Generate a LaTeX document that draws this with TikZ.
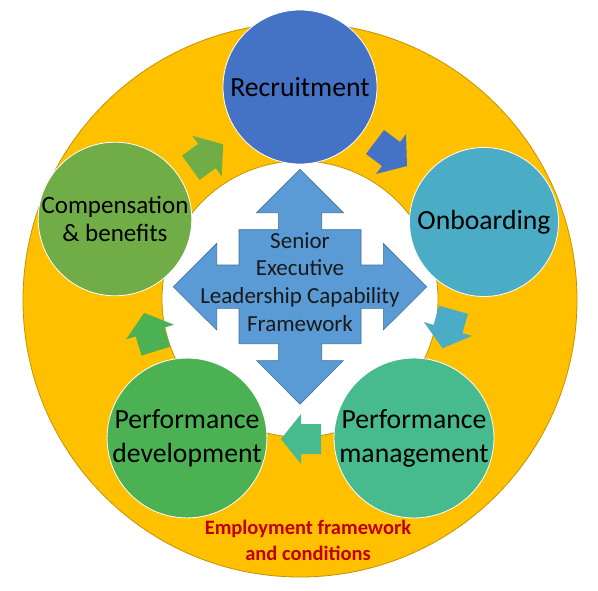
\documentclass[tikz,border=0pt]{standalone}
\usepackage{fontspec}
\setmainfont{Carlito}
\definecolor{ringfill}{HTML}{FFC000}
\definecolor{ringedge}{HTML}{C49400}
\definecolor{cRec}{HTML}{4472C4}
\definecolor{cOnb}{HTML}{4BACC6}
\definecolor{cPm}{HTML}{47BA8E}
\definecolor{cPd}{HTML}{4CB153}
\definecolor{cComp}{HTML}{70AD47}
\definecolor{hubfill}{HTML}{5B9BD5}
\definecolor{hubedge}{HTML}{41719C}
\definecolor{labred}{HTML}{C00000}
\begin{document}
\begin{tikzpicture}[x=1pt,y=-1pt,
  stage/.style={circle, draw=white, line width=0.8pt, minimum size=#1, inner sep=0pt, align=center,
    font=\fontsize{27.7}{34}\selectfont},
  blockarrow/.pic={\fill[pic actions] (-20,-15) -- (0,-15) -- (0,-25) -- (20,0) -- (0,25) -- (0,15) -- (-20,15) -- cycle;}]
\useasboundingbox (0,0) rectangle (598,590);
\fill[white] (0,0) rectangle (598,590);
\node[circle, fill=ringfill, draw=ringedge, line width=0.8pt, minimum size=554pt, inner sep=0pt] (ring) at (300,300) {};
\node[circle, fill=white, draw=ringedge, line width=0.8pt, minimum size=276pt, inner sep=0pt] (hub) at (300,299) {};
% central four-way arrow
\begin{scope}[shift={(300,286.7)}]
\filldraw[fill=hubfill, draw=hubedge, line width=0.6pt]
 (0,-117.4) -- (43.3,-74) -- (21.7,-74) -- (21.7,-57) -- (61,-57) -- (61,-21.7) -- (83.3,-21.7) -- (83.3,-43.3)
 -- (126.7,0) -- (83.3,43.3) -- (83.3,21.7) -- (61,21.7) -- (61,57) -- (21.7,57) -- (21.7,74) -- (43.3,74)
 -- (0,117.4) -- (-43.3,74) -- (-21.7,74) -- (-21.7,57) -- (-61,57) -- (-61,21.7) -- (-83.3,21.7) -- (-83.3,43.3)
 -- (-126.7,0) -- (-83.3,-43.3) -- (-83.3,-21.7) -- (-61,-21.7) -- (-61,-57) -- (-21.7,-57) -- (-21.7,-74) -- (-43.3,-74) -- cycle;
\end{scope}
\node[align=center, text=black!90, font=\fontsize{23}{27.7}\selectfont] (core) at (300,282)
  {Senior\\Executive\\Leadership Capability\\Framework};
% stage circles
\node[stage=154pt, fill=cRec] (rec) at (300,87) {Recruitment};
\node[stage=149pt, fill=cOnb] (onb) at (484,222) {Onboarding};
\node[stage=152pt, fill=cPm] (pm) at (414,438) {Performance\\management};
\node[stage=152pt, fill=cPd] (pd) at (187,438) {Performance\\development};
\node[stage=150pt, fill=cComp, font=\fontsize{25}{28}\selectfont] (comp) at (115,219) {Compensation\\\& benefits};
% block arrows between stages
\pic[fill=cRec, rotate=-37] at (391,154) {blockarrow};
\pic[fill=cOnb, rotate=-106] at (448,329) {blockarrow};
\pic[fill=cPm, rotate=180] at (301,439) {blockarrow};
\pic[fill=cPd, rotate=107] at (150,332) {blockarrow};
\pic[fill=cComp, rotate=36] at (207,156) {blockarrow};
% bottom label
\node[align=center, text=labred, font=\bfseries\fontsize{20.5}{26}\selectfont] (cond) at (308,540)
  {Employment framework\\and conditions};
\end{tikzpicture}
\end{document}
